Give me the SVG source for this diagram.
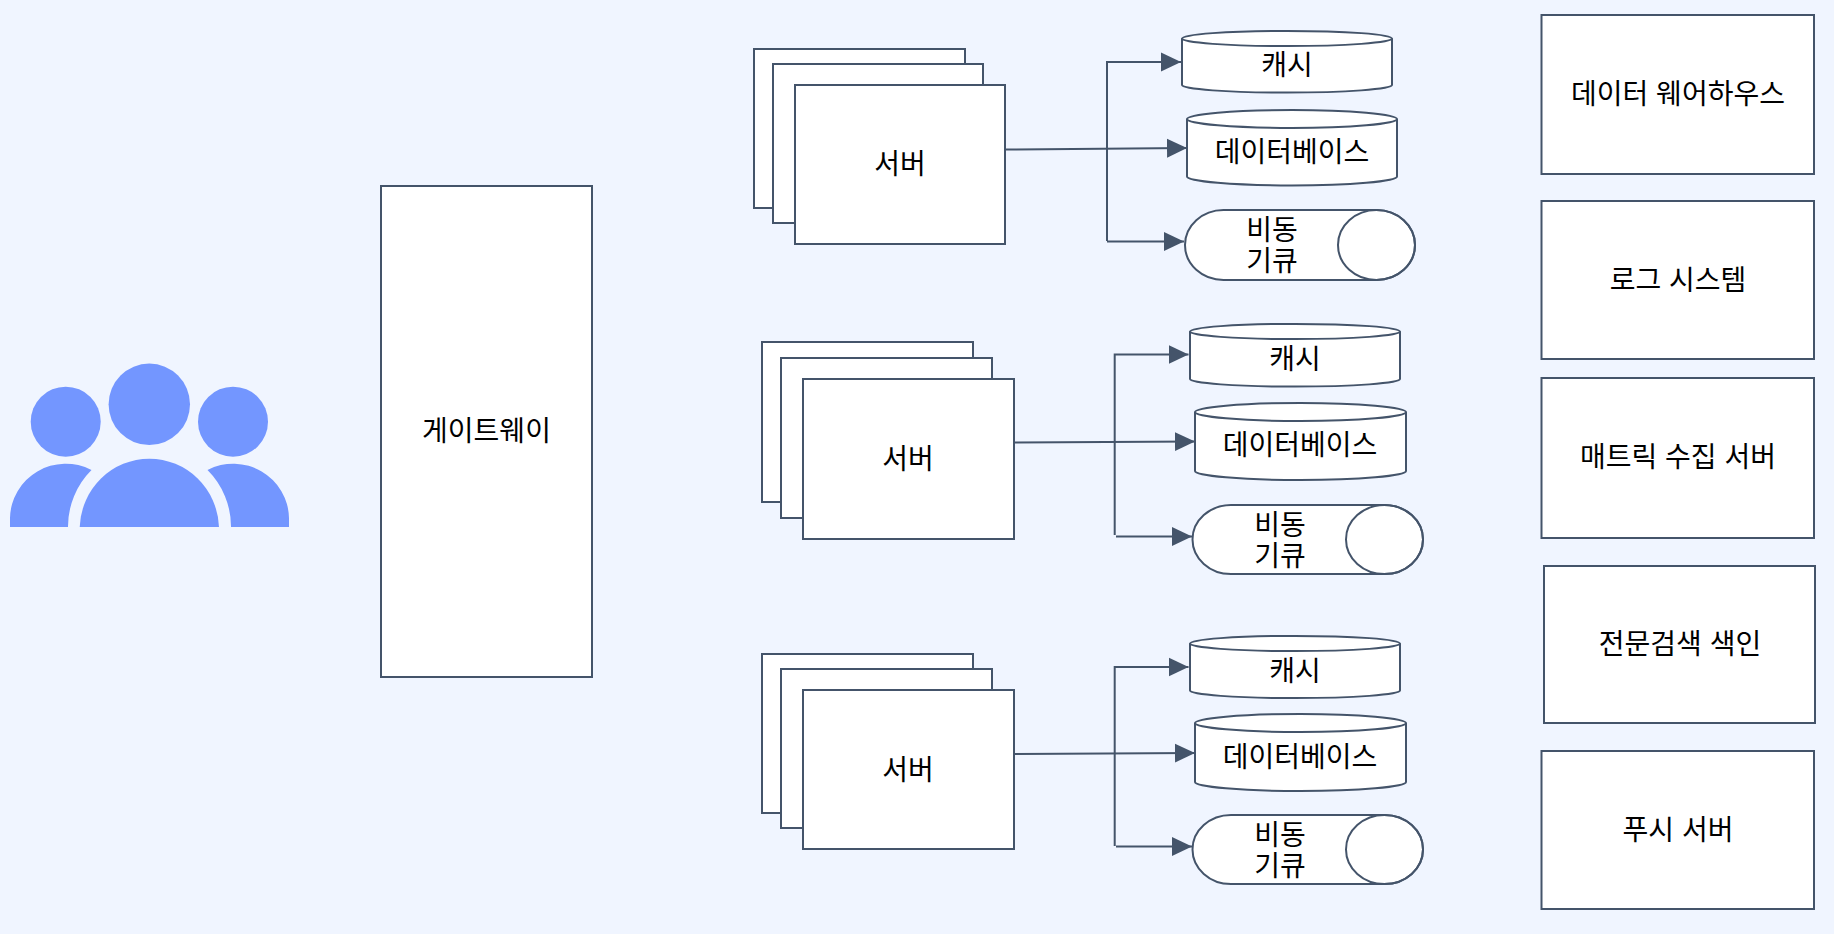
<svg xmlns="http://www.w3.org/2000/svg" width="1834" height="934" viewBox="0 0 1834 934">
<style>
.b{fill:#fff;stroke:#44546a;stroke-width:2}
.l{fill:none;stroke:#44546a;stroke-width:2}
.ic{fill:#7396ff}
text{font-family:"Liberation Sans","Noto Sans CJK KR",sans-serif;font-size:28px;font-weight:400;fill:#000;text-anchor:middle}
</style>
<defs>
<marker id="a" markerUnits="userSpaceOnUse" markerWidth="20" markerHeight="20" refX="20" refY="10" orient="auto"><path d="M0 0.5L20 10L0 19.500Z" fill="#44546a"/></marker>
</defs>
<rect width="1834" height="934" fill="#f0f5ff"/>
<g id="users">
<circle class="ic" cx="149.300" cy="404.300" r="40.700"/>
<circle class="ic" cx="65.700" cy="421.700" r="35"/>
<circle class="ic" cx="233" cy="421.700" r="35"/>
<path class="ic" d="M79.700 527A69.700 71 0 0 1 219 527Z"/>
<path class="ic" d="M10 527V518A55.700 55.500 0 0 1 91.500 470A80 80 0 0 0 68 527Z"/>
<path class="ic" d="M289 527V518A55.700 55.500 0 0 0 207.500 470A80 80 0 0 1 231 527Z"/>
</g>
<g id="gateway"><rect class="b" x="381" y="186" width="211" height="491"/><text x="486.500" y="441">게이트웨이</text></g>
<g id="server-1">
<rect class="b" x="754" y="49" width="211" height="159"/>
<rect class="b" x="773" y="64" width="210" height="159"/>
<rect class="b" x="795" y="85" width="210" height="159"/>
<text x="900" y="174">서버</text>
</g>
<g id="cache-1"><path class="b" d="M1182 38.500A105 7.600 0 0 1 1392 38.500V85A105 7.600 0 0 1 1182 85Z"/><path class="l" d="M1182 38.500A105 7.600 0 0 0 1392 38.500"/><text x="1287" y="75">캐시</text></g>
<g id="db-1"><path class="b" d="M1187 119A105 9 0 0 1 1397 119V176.500A105 9 0 0 1 1187 176.500Z"/><path class="l" d="M1187 119A105 9 0 0 0 1397 119"/><text x="1292" y="162">데이터베이스</text></g>
<g id="queue-1"><path class="b" d="M1223.500 210H1376.500A38.500 35 0 0 1 1376.500 280H1223.500A38.500 35 0 0 1 1223.500 210Z"/><ellipse class="l" cx="1376.500" cy="245" rx="38.500" ry="35"/><text><tspan x="1272" y="240">비동</tspan><tspan x="1272" y="271">기큐</tspan></text></g>
<g id="server-2">
<rect class="b" x="762" y="342" width="211" height="160"/>
<rect class="b" x="781" y="358" width="211" height="160"/>
<rect class="b" x="803" y="379" width="211" height="160"/>
<text x="908" y="469">서버</text>
</g>
<g id="cache-2"><path class="b" d="M1190 331.500A105 7.600 0 0 1 1400 331.500V379A105 7.600 0 0 1 1190 379Z"/><path class="l" d="M1190 331.500A105 7.600 0 0 0 1400 331.500"/><text x="1295" y="369">캐시</text></g>
<g id="db-2"><path class="b" d="M1195 412A105.500 9 0 0 1 1406 412V471A105.500 9 0 0 1 1195 471Z"/><path class="l" d="M1195 412A105.500 9 0 0 0 1406 412"/><text x="1300" y="455">데이터베이스</text></g>
<g id="queue-2"><path class="b" d="M1231 505H1384.500A38.500 34.500 0 0 1 1384.500 574H1231A38.500 34.500 0 0 1 1231 505Z"/><ellipse class="l" cx="1384.500" cy="539.500" rx="38.500" ry="34.500"/><text><tspan x="1280" y="535">비동</tspan><tspan x="1280" y="566">기큐</tspan></text></g>
<g id="server-3">
<rect class="b" x="762" y="654" width="211" height="159"/>
<rect class="b" x="781" y="669" width="211" height="159"/>
<rect class="b" x="803" y="690" width="211" height="159"/>
<text x="908" y="780">서버</text>
</g>
<g id="cache-3"><path class="b" d="M1190 643.500A105 7.600 0 0 1 1400 643.500V690.500A105 7.600 0 0 1 1190 690.500Z"/><path class="l" d="M1190 643.500A105 7.600 0 0 0 1400 643.500"/><text x="1295" y="681">캐시</text></g>
<g id="db-3"><path class="b" d="M1195 723A105.500 9 0 0 1 1406 723V782A105.500 9 0 0 1 1195 782Z"/><path class="l" d="M1195 723A105.500 9 0 0 0 1406 723"/><text x="1300" y="767">데이터베이스</text></g>
<g id="queue-3"><path class="b" d="M1231 815H1384.500A38.500 34.500 0 0 1 1384.500 884H1231A38.500 34.500 0 0 1 1231 815Z"/><ellipse class="l" cx="1384.500" cy="849.500" rx="38.500" ry="34.500"/><text><tspan x="1280" y="845">비동</tspan><tspan x="1280" y="876">기큐</tspan></text></g>
<g id="warehouse"><rect class="b" x="1541.500" y="15" width="272.500" height="159"/><text x="1678" y="104">데이터 웨어하우스</text></g>
<g id="log"><rect class="b" x="1541.500" y="201" width="272.500" height="158"/><text x="1678" y="290">로그 시스템</text></g>
<g id="metric"><rect class="b" x="1541.500" y="378" width="272.500" height="160"/><text x="1678" y="467">매트릭 수집 서버</text></g>
<g id="search"><rect class="b" x="1544" y="566" width="271" height="157"/><text x="1680" y="654">전문검색 색인</text></g>
<g id="push"><rect class="b" x="1541.500" y="751" width="272.500" height="158"/><text x="1678" y="840">푸시 서버</text></g>
<g id="connectors">
<path class="l" d="M1005 149.500L1187 148" marker-end="url(#a)"/>
<path class="l" d="M1107 241V62H1181" marker-end="url(#a)"/>
<path class="l" d="M1107 241.500H1184" marker-end="url(#a)"/>
<path class="l" d="M1015 442.500L1195 441.500" marker-end="url(#a)"/>
<path class="l" d="M1114.700 535V354.500H1188.500" marker-end="url(#a)"/>
<path class="l" d="M1116 536.500H1192" marker-end="url(#a)"/>
<path class="l" d="M1015 754L1195 753" marker-end="url(#a)"/>
<path class="l" d="M1114.700 846V667H1188.500" marker-end="url(#a)"/>
<path class="l" d="M1116 846.500H1192" marker-end="url(#a)"/>
</g>
</svg>
